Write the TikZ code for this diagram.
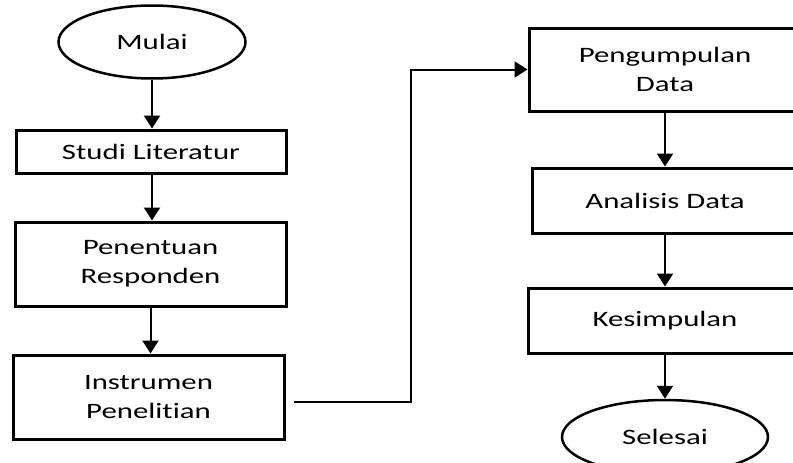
\documentclass[tikz,border=0pt]{standalone}
\usepackage{fontspec}
\setmainfont{Carlito}[FakeStretch=1.4, Ligatures=NoCommon]
\usetikzlibrary{shapes.geometric,arrows.meta}

\begin{document}
\begin{tikzpicture}[x=1pt, y=-1pt,
  font=\fontsize{22}{29}\selectfont,
  box/.style={draw, line width=3pt, rectangle, inner sep=0pt, align=center},
  terminal/.style={draw, line width=2.5pt, ellipse, inner sep=0pt},
  conn/.style={line width=2pt, -{Triangle[width=16pt,length=13pt]}}]

  \useasboundingbox (0,0) rectangle (793,463);
  \clip (0,0) rectangle (793,463);

  %% left column
  \node[terminal, minimum width=187pt, minimum height=73pt] (mulai) at (152,42) {Mulai};
  \node[box, minimum width=270pt, minimum height=43pt] (studi) at (151,151.5) {Studi Literatur};
  \node[box, minimum width=271pt, minimum height=84pt] (penentuan) at (150.5,264) {Penentuan\\Responden};
  \node[box, minimum width=271pt, minimum height=84pt] (instrumen) at (148.5,397) {Instrumen\\Penelitian};

  %% right column
  \node[box, minimum width=272pt, minimum height=83pt] (pengumpulan) at (665,69.5) {Pengumpulan\\Data};
  \node[box, minimum width=266pt, minimum height=65pt] (analisis) at (665,200.5) {Analisis Data};
  \node[box, minimum width=274pt, minimum height=65pt] (kesimpulan) at (665,320.5) {Kesimpulan};
  \node[terminal, minimum width=206pt, minimum height=74pt] (selesai) at (665,437) {Selesai};

  \draw[conn] (mulai.south) -- (mulai.south |- studi.north); %% Mulai->Studi
  \draw[conn] (mulai.south |- studi.south) -- (mulai.south |- penentuan.north); %% Studi->Penentuan
  \draw[conn] (penentuan.south) -- (penentuan.south |- instrumen.north); %% Penentuan->Instrumen
  \draw[conn, shorten <=8pt] ([yshift=-5pt]instrumen.east) -- ++(125,0) |- (pengumpulan.west); %% Instrumen->Pengumpulan
  \draw[conn] (pengumpulan) -- (analisis); %% Pengumpulan->Analisis
  \draw[conn] (analisis) -- (kesimpulan); %% Analisis->Kesimpulan
  \draw[conn] (kesimpulan) -- (selesai); %% Kesimpulan->Selesai
\end{tikzpicture}
\end{document}
